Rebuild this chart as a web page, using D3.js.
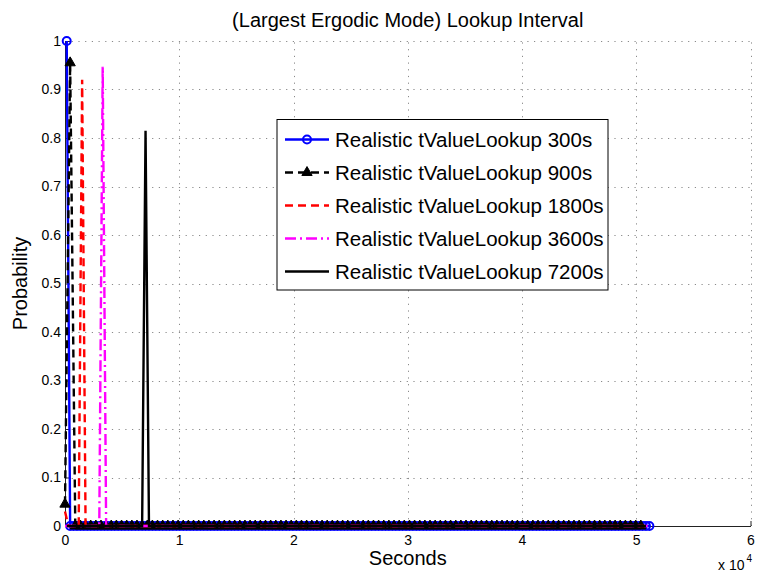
<!DOCTYPE html>
<html>
<head>
<meta charset="utf-8">
<script src="https://cdn.jsdelivr.net/npm/d3@7"></script>
<style>
  body { margin: 0; background: #fff; }
  text { font-family: "Liberation Sans", Arial, Helvetica, sans-serif; fill: #000; }
</style>
</head>
<body>
<div id="chart"></div>
<script>
// series labels
const seriesNames = [
  "Realistic tValueLookup 300s",
  "Realistic tValueLookup 900s",
  "Realistic tValueLookup 1800s",
  "Realistic tValueLookup 3600s",
  "Realistic tValueLookup 7200s"
];
// bin grid of each series (seconds): first bin, bin width, last bin
const binStart = [150, 0, 0, 0, 150];
const binStep  = [300, 450, 300, 300, 300];
const binEnd   = [51150, 50400, 51000, 51000, 50850];
// probabilities of the leading bins; every later bin reads as 0
const head300  = [1.0, 0];
const head900  = [0.045, 0.955, 0];
const head1800 = [0.03, 0, 0, 0, 0, 0.92, 0];
const head3600 = [0, 0, 0, 0, 0, 0, 0, 0, 0, 0, 0, 0.947, 0];
const head7200 = [0, 0, 0, 0, 0, 0, 0, 0, 0, 0, 0, 0, 0, 0, 0, 0, 0, 0, 0, 0, 0, 0, 0, 0.815, 0];
const heads = [head300, head900, head1800, head3600, head7200];

const xTicks = [0, 10000, 20000, 30000, 40000, 50000, 60000];
const yTicks = [0, 0.1, 0.2, 0.3, 0.4, 0.5, 0.6, 0.7, 0.8, 0.9, 1];

const styles = [
  {color: "#0000ff", dash: null,        marker: "circle"},
  {color: "#000000", dash: "8,5",       marker: "triangle"},
  {color: "#ff0000", dash: "8,5",       marker: null},
  {color: "#ff00ff", dash: "11,4,2,4",  marker: null},
  {color: "#000000", dash: null,        marker: null}
];

const W = 757, H = 576;
const plot = {left: 65, right: 750.5, top: 41, bottom: 526};

const svg = d3.select("#chart").append("svg")
  .attr("width", W).attr("height", H);

const x = d3.scaleLinear().domain([0, 60000]).range([plot.left, plot.right]);
const y = d3.scaleLinear().domain([0, 1]).range([plot.bottom, plot.top]);

// build the point lists
const series = seriesNames.map((name, i) => {
  const pts = [];
  let k = 0;
  for (let t = binStart[i]; t <= binEnd[i]; t += binStep[i], k++) {
    pts.push({x: t, y: k < heads[i].length ? heads[i][k] : 0});
  }
  return {name, pts, style: styles[i]};
});

// grid
const grid = svg.append("g").attr("stroke", "#8a8a8a").attr("stroke-width", 1)
  .attr("stroke-dasharray", "1.2,5.5");
grid.selectAll(".gx").data(xTicks.slice(1)).enter().append("line")
  .attr("x1", d => Math.round(x(d)) + 0.5).attr("x2", d => Math.round(x(d)) + 0.5)
  .attr("y1", plot.bottom).attr("y2", plot.top);
grid.selectAll(".gy").data(yTicks.slice(1)).enter().append("line")
  .attr("y1", d => Math.round(y(d)) + 0.5).attr("y2", d => Math.round(y(d)) + 0.5)
  .attr("x1", plot.left).attr("x2", plot.right);

// axes (MATLAB style: ticks pointing inward)
const xAxis = svg.append("g")
  .attr("transform", "translate(0," + plot.bottom + ")")
  .call(d3.axisBottom(x).tickValues(xTicks).tickSizeInner(-5).tickSizeOuter(0)
    .tickPadding(9).tickFormat(d => d / 10000));
const yAxis = svg.append("g")
  .attr("transform", "translate(" + plot.left + ",0)")
  .call(d3.axisLeft(y).tickValues(yTicks).tickSizeInner(-5).tickSizeOuter(0)
    .tickPadding(4).tickFormat(d => d3.format("~g")(d)));
[xAxis, yAxis].forEach(a => {
  a.select(".domain").attr("stroke", "#222");
  a.selectAll(".tick line").attr("stroke", "#222");
  a.selectAll(".tick text").style("font-size", "14px")
    .style("font-family", "'Liberation Sans', Arial, sans-serif").attr("fill", "#000");
});

// lines
const line = d3.line().x(d => x(d.x)).y(d => y(d.y));
const gLines = svg.append("g");
series.forEach(s => {
  gLines.append("path")
    .datum(s.pts)
    .attr("d", line)
    .attr("fill", "none")
    .attr("stroke", s.style.color)
    .attr("stroke-width", 2.4)
    .attr("stroke-linejoin", "miter")
    .attr("stroke-dasharray", s.style.dash);
  if (s.style.marker === "circle") {
    gLines.append("g").selectAll("circle").data(s.pts).enter().append("circle")
      .attr("cx", d => x(d.x)).attr("cy", d => y(d.y)).attr("r", 4)
      .attr("fill", "none").attr("stroke", s.style.color).attr("stroke-width", 2);
  } else if (s.style.marker === "triangle") {
    const tri = d3.symbol().type(d3.symbolTriangle).size(46);
    gLines.append("g").selectAll("path").data(s.pts).enter().append("path")
      .attr("d", tri)
      .attr("transform", d => "translate(" + x(d.x) + "," + y(d.y) + ")")
      .attr("fill", s.style.color).attr("stroke", s.style.color).attr("stroke-width", 1);
  }
});

// title and axis labels
svg.append("text").attr("x", (plot.left + plot.right) / 2).attr("y", 27)
  .attr("text-anchor", "middle").style("font-size", "20px")
  .text("(Largest Ergodic Mode) Lookup Interval");
svg.append("text").attr("x", (plot.left + plot.right) / 2).attr("y", 565)
  .attr("text-anchor", "middle").style("font-size", "20px").text("Seconds");
svg.append("text")
  .attr("transform", "translate(27," + (plot.top + plot.bottom) / 2 + ") rotate(-90)")
  .attr("text-anchor", "middle").style("font-size", "20px").text("Probability");
const exp = svg.append("text").attr("x", 718).attr("y", 570).style("font-size", "14px");
exp.append("tspan").text("x 10");
exp.append("tspan").attr("dx", 2).attr("dy", -8).style("font-size", "10px").text("4");

// legend
const leg = {x: 277, y: 119.5, w: 331, h: 170.5, row: 33};
const gLeg = svg.append("g");
gLeg.append("rect").attr("x", leg.x).attr("y", leg.y).attr("width", leg.w).attr("height", leg.h)
  .attr("fill", "#fff").attr("stroke", "#000").attr("stroke-width", 1);
series.forEach((s, i) => {
  const cy = 139.5 + i * leg.row;
  gLeg.append("line").attr("x1", 285).attr("x2", 329).attr("y1", cy).attr("y2", cy)
    .attr("stroke", s.style.color).attr("stroke-width", 2.4)
    .attr("stroke-dasharray", s.style.dash);
  if (s.style.marker === "circle") {
    gLeg.append("circle").attr("cx", 307).attr("cy", cy).attr("r", 4)
      .attr("fill", "none").attr("stroke", s.style.color).attr("stroke-width", 2);
  } else if (s.style.marker === "triangle") {
    gLeg.append("path").attr("d", d3.symbol().type(d3.symbolTriangle).size(46))
      .attr("transform", "translate(307," + cy + ")")
      .attr("fill", s.style.color).attr("stroke", s.style.color).attr("stroke-width", 1);
  }
  gLeg.append("text").attr("x", 335).attr("y", cy + 7).style("font-size", "20.5px").text(s.name);
});
</script>
</body>
</html>
